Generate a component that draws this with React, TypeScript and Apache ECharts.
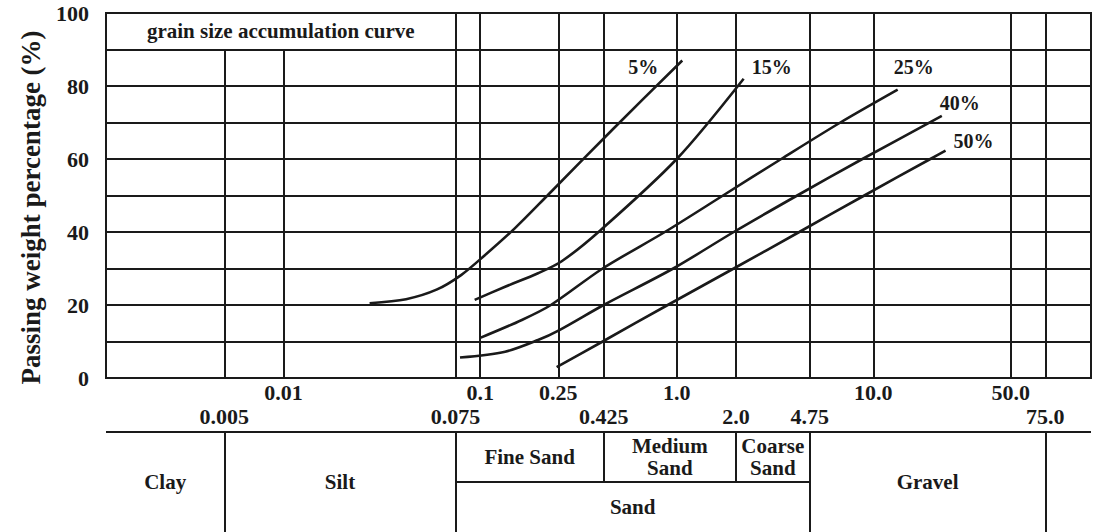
import React, { useEffect, useRef } from 'react';
import * as echarts from 'echarts';

// ---- axis / grid values (grain size in mm) ----
const XMIN = 0.00125;
const XMAX = 128;
const gridSizes = [0.005, 0.01, 0.075, 0.1, 0.25, 0.425, 1, 2, 4.75, 10, 50, 75];
const shortGridSizes = [0.005, 0.01]; // these stop below the title row
const topRowTicks = [0.01, 0.1, 0.25, 1, 10, 50];
const topRowLabels = ['0.01', '0.1', '0.25', '1.0', '10.0', '50.0'];
const bottomRowTicks = [0.005, 0.075, 0.425, 2, 4.75, 75];
const bottomRowLabels = ['0.005', '0.075', '0.425', '2.0', '4.75', '75.0'];

// ---- curves: [grain size (mm), passing %] ----
const curveNames = ['5%', '15%', '25%', '40%', '50%'];
const curve5 = [[0.0274, 20.5], [0.042, 21.6], [0.06, 24.2], [0.08, 28.2], [0.105, 33.5], [0.15, 41], [0.22, 50], [0.48, 68.5], [1.067, 87]];
const curve15 = [[0.0938, 21.4], [0.134, 25], [0.197, 28.7], [0.26, 32], [0.4, 40], [1.0, 60], [2.19, 82]];
const curve25 = [[0.1, 11], [0.163, 15.9], [0.229, 20], [0.42, 30], [0.87, 40], [1.72, 50], [3.4, 60], [6.8, 70], [13.3, 79]];
const curve40 = [[0.079, 5.6], [0.134, 7.2], [0.197, 10.4], [0.2545, 13.2], [0.425, 20], [0.96, 30], [1.95, 40], [4.1, 50], [8.8, 60], [22.3, 71.8]];
const curve50 = [[0.245, 3], [0.42, 10], [0.9, 20], [1.95, 30], [4.2, 40], [9.0, 50], [19.5, 60], [23.3, 62.3]];
const curves = [curve5, curve15, curve25, curve40, curve50];

// ---- soil classification table ----
const soilClasses = ['Clay', 'Silt', 'Fine Sand', 'Medium\nSand', 'Coarse\nSand', 'Gravel', 'Sand'];
const classFrom = [XMIN, 0.005, 0.075, 0.425, 2, 4.75, 0.075];
const classTo = [0.005, 0.075, 0.425, 2, 4.75, 75, 4.75];
const classRowLow = [0, 0, 1, 1, 1, 0, 0];
const classRowHigh = [2, 2, 2, 2, 2, 2, 1];
const tableFullDividers = [0.005, 0.075, 4.75, 75];
const tableUpperDividers = [0.425, 2];

// label offsets (style)
const endLabelOffsets = [[-62, 7], [0, -12], [-12, -23], [-10, -13], [0, -10]];

const FONT = 'Liberation Serif';
const INK = '#1a1a1a';

export default function App() {
  const ref = useRef<HTMLDivElement>(null);
  useEffect(() => {
    const chart = echarts.init(ref.current!, null, { renderer: 'svg' });

    const findLabel = (v: number, ticks: number[], labels: string[]) => {
      for (let i = 0; i < ticks.length; i++) {
        if (Math.abs(v - ticks[i]) / ticks[i] < 1e-6) return labels[i];
      }
      return '';
    };

    const labelStyle = { fontFamily: FONT, fontWeight: 'bold' as const, color: INK, fontSize: 22 };

    const vLines = gridSizes.map((v) => [
      { coord: [v, 0] },
      { coord: [v, shortGridSizes.includes(v) ? 90 : 100] },
    ]);

    const curveSeries = curves.map((data, i) => ({
      type: 'line',
      name: curveNames[i],
      xAxisIndex: 0,
      yAxisIndex: 0,
      data,
      smooth: 0.3,
      symbol: 'none',
      showSymbol: false,
      lineStyle: { color: INK, width: 2.6 },
      silent: true,
      endLabel: {
        show: true,
        formatter: () => curveNames[i],
        offset: endLabelOffsets[i],
        fontFamily: FONT,
        fontWeight: 'bold',
        fontSize: 20,
        color: INK,
      },
    }));

    const tableLines: any[] = [
      [{ coord: [XMIN, 2] }, { coord: [XMAX, 2] }],
      [{ coord: [0.075, 1] }, { coord: [4.75, 1] }],
      ...tableFullDividers.map((v) => [{ coord: [v, 0] }, { coord: [v, 2] }]),
      ...tableUpperDividers.map((v) => [{ coord: [v, 1] }, { coord: [v, 2] }]),
    ];

    const tableCells = soilClasses.map((name, i) => [
      { name, coord: [classFrom[i], classRowLow[i]] },
      { coord: [classTo[i], classRowHigh[i]] },
    ]);

    const option: any = {
      animation: false,
      backgroundColor: '#ffffff',
      grid: [
        { left: 106, right: 3, top: 13, height: 365, show: true, borderColor: INK, borderWidth: 2, backgroundColor: 'transparent' },
        { left: 106, right: 3, top: 421.4, height: 116.6 },
      ],
      xAxis: [
        {
          type: 'log', logBase: 10, gridIndex: 0, min: XMIN, max: XMAX,
          axisLine: { show: false }, axisTick: { show: false }, splitLine: { show: false },
          axisLabel: { ...labelStyle, customValues: topRowTicks, margin: 3, formatter: (v: number) => findLabel(v, topRowTicks, topRowLabels) },
        },
        {
          type: 'log', logBase: 10, gridIndex: 0, min: XMIN, max: XMAX, position: 'bottom',
          axisLine: { show: false }, axisTick: { show: false }, splitLine: { show: false },
          axisLabel: { ...labelStyle, customValues: bottomRowTicks, margin: 27, formatter: (v: number) => findLabel(v, bottomRowTicks, bottomRowLabels) },
        },
        {
          type: 'log', logBase: 10, gridIndex: 1, min: XMIN, max: XMAX, show: false,
        },
      ],
      yAxis: [
        {
          type: 'value', gridIndex: 0, min: 0, max: 100, interval: 10,
          name: 'Passing weight percentage (%)', nameLocation: 'middle', nameGap: 62,
          nameTextStyle: { fontFamily: FONT, fontWeight: 'bold', fontSize: 27, color: INK, padding: [0, 24, 0, 0] },
          axisLine: { show: false }, axisTick: { show: false },
          splitLine: { show: true, lineStyle: { color: INK, width: 2, type: 'solid' } },
          axisLabel: { ...labelStyle, margin: 17, formatter: (v: number) => (v % 20 === 0 ? String(v) : '') },
        },
        { type: 'value', gridIndex: 1, min: 0, max: 2.2, show: false },
      ],
      series: [
        {
          type: 'line', xAxisIndex: 0, yAxisIndex: 0, data: [], silent: true,
          markLine: {
            silent: true, symbol: ['none', 'none'], label: { show: false },
            lineStyle: { color: INK, width: 2, type: 'solid' },
            data: vLines,
          },
          markArea: {
            silent: true,
            itemStyle: { color: 'transparent' },
            label: { show: true, position: 'inside', fontFamily: FONT, fontWeight: 'bold', fontSize: 21, color: INK },
            data: [[{ name: 'grain size accumulation curve', coord: [XMIN, 90] }, { coord: [0.075, 100] }]],
          },
        },
        ...curveSeries,
        {
          type: 'line', xAxisIndex: 2, yAxisIndex: 1, data: [], silent: true,
          markLine: {
            silent: true, symbol: ['none', 'none'], label: { show: false },
            lineStyle: { color: INK, width: 2, type: 'solid' },
            data: tableLines,
          },
          markArea: {
            silent: true,
            itemStyle: { color: 'transparent' },
            label: { show: true, position: 'inside', fontFamily: FONT, fontWeight: 'bold', fontSize: 21, color: INK, lineHeight: 22, align: 'center' },
            data: tableCells,
          },
        },
      ],
    };

    chart.setOption(option);
    return () => chart.dispose();
  }, []);

  return <div ref={ref} style={{ position: 'fixed', left: 0, top: 0, width: 1094, height: 532 }} />;
}
